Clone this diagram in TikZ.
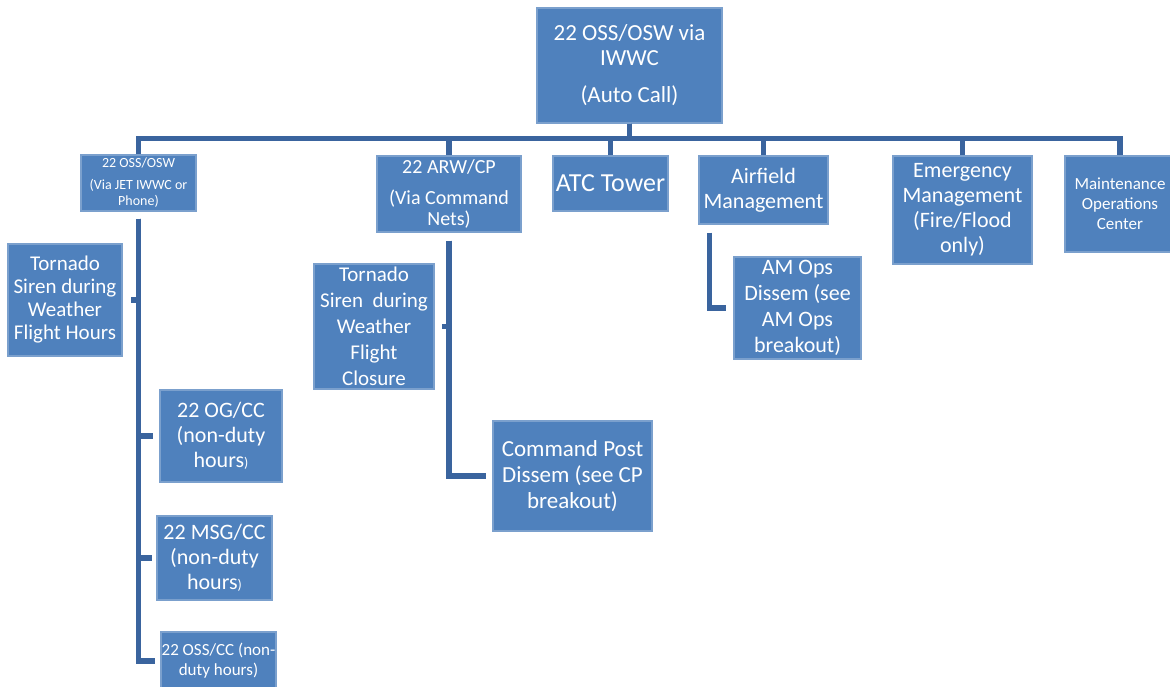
\documentclass[tikz,border=0pt]{standalone}
\usepackage{fontspec}
\setmainfont{Carlito}
\usepackage{tikz}
\usetikzlibrary{calc}
\definecolor{boxblue}{RGB}{79,129,189}
\definecolor{linkblue}{RGB}{58,100,158}

\begin{document}
\begin{tikzpicture}[x=0.5pt, y=-0.5pt,
     box/.style = {shape=rectangle, fill=boxblue, draw=boxblue!75!white,
         line width=0.6pt, text=white, align=center, inner sep=0pt},
     link/.style = {draw=linkblue, line width=2.6pt}]
        \useasboundingbox (0,0) rectangle (1170,686);
        \clip (0,0) rectangle (1170,686);
        \node [box, minimum width=92.5pt, minimum height=57.5pt, font=\fontsize{11.5}{12.5}\selectfont] (top) at (629.5,65.5)
             {22 OSS/OSW via\\IWWC\\[6pt](Auto Call)};
        \node [box, minimum width=57.5pt, minimum height=28pt, font=\fontsize{7}{8}\selectfont] (osw) at (138.5,183)
             {22 OSS/OSW\\[3pt](Via JET IWWC or\\Phone)};
        \node [box, minimum width=72pt, minimum height=38pt, font=\fontsize{10}{10.5}\selectfont] (arw) at (449,194)
             {22 ARW/CP\\[5pt](Via Command\\Nets)};
        \node [box, minimum width=57.5pt, minimum height=27.5pt, font=\fontsize{13}{14}\selectfont] (atc) at (610.5,183.5)
             {ATC Tower};
        \node [box, minimum width=64.5pt, minimum height=34pt, font=\fontsize{11}{12.5}\selectfont] (air) at (763.5,190)
             {Airfield\\Management};
        \node [box, minimum width=69.5pt, minimum height=54pt, font=\fontsize{11}{12.5}\selectfont] (emerg) at (962.5,210)
             {Emergency\\Management\\(Fire/Flood\\only)};
        \node [box, minimum width=55pt, minimum height=48pt, font=\fontsize{8.5}{10}\selectfont] (moc) at (1120,204)
             {Maintenance\\Operations\\Center};
        \node [box, minimum width=57pt, minimum height=56pt, font=\fontsize{10.5}{11.5}\selectfont] (tor1) at (65,300)
             {Tornado\\Siren during\\Weather\\Flight Hours};
        \node [box, minimum width=61pt, minimum height=46pt, font=\fontsize{11}{12.5}\selectfont] (ogcc) at (221,436)
             {22 OG/CC\\(non-duty\\hours{\scriptsize)}};
        \node [box, minimum width=57.5pt, minimum height=42pt, font=\fontsize{11}{12.5}\selectfont] (msgcc) at (214.5,558)
             {22 MSG/CC\\(non-duty\\hours{\scriptsize)}};
        \node [box, minimum width=57.5pt, minimum height=29pt, font=\fontsize{8.5}{10}\selectfont] (osscc) at (218.5,661)
             {22 OSS/CC (non-\\duty hours)};
        \node [box, minimum width=60pt, minimum height=62.5pt, font=\fontsize{10.5}{13}\selectfont] (tor2) at (374,326.5)
             {Tornado\\Siren~ during\\Weather\\Flight\\Closure};
        \node [box, minimum width=79.5pt, minimum height=55pt, font=\fontsize{11.5}{13}\selectfont] (cp) at (572.5,476)
             {Command Post\\Dissem (see CP\\breakout)};
        \node [box, minimum width=63.5pt, minimum height=51pt, font=\fontsize{11}{13}\selectfont] (amops) at (797.5,308)
             {AM Ops\\Dissem (see\\AM Ops\\breakout)};

        \foreach \c in {osw, arw, atc, air, emerg, moc}
            \draw [link] (top.south) -- ++(0,15) -| (\c.north);
        \draw [link] ([yshift=-3.5pt]osw.south) |- ([xshift=4pt]tor1.east);
        \draw [link] ([yshift=-3.5pt]osw.south) |- ([xshift=-3pt]ogcc.west);
        \draw [link] ([yshift=-3.5pt]osw.south) |- ([xshift=-2pt]msgcc.west);
        \draw [link] ([yshift=-3.5pt]osw.south) |- ([xshift=-2.5pt]osscc.west);
        \draw [link] ([yshift=-4pt]arw.south) |- ([xshift=3.5pt]tor2.east);
        \draw [link] ([yshift=-4pt]arw.south) |- ([xshift=-3pt]cp.west);
        \draw [link] ([shift={(5.5pt,-4pt)}]air.south west) |- ([xshift=-3.5pt]amops.west);
\end{tikzpicture}
\end{document}
